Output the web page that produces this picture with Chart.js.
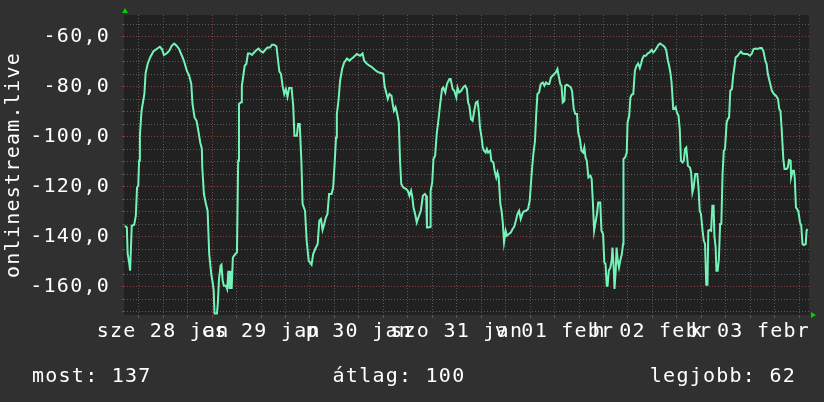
<!DOCTYPE html>
<html>
<head>
<meta charset="utf-8">
<script src="https://cdn.jsdelivr.net/npm/chart.js@4.4.1/dist/chart.umd.min.js"></script>
<style>
  html, body { margin: 0; padding: 0; background: #303030; }
  canvas { display: block; }
</style>
</head>
<body>
<canvas id="chart" width="824" height="402"></canvas>
<script>
// hours counted from jan 28 00:00
const hours = [
  2.6, 3.1, 3.3, 3.6, 3.9, 4.1, 4.3, 4.9, 5.3, 5.6, 5.9, 6.1, 6.3, 6.7, 7.4, 7.7, 8.2, 8.8, 9.6, 10.4,
  11.2, 11.7, 12.2, 12.9, 13.5, 14.1, 14.7, 15.3, 15.9, 16.6, 17.1, 17.8, 18.4, 18.9, 19.2, 19.7, 20.2, 20.7, 21.1, 21.5,
  21.6, 22.0, 22.5, 22.9, 23.3, 23.8, 24.2, 24.4, 24.6, 25.2, 25.4, 25.7, 26.1, 26.3, 26.6, 26.9, 27.4, 27.7, 28.0, 28.3,
  28.5, 28.8, 29.1, 29.7, 30.1, 30.4, 30.6, 31.1, 31.3, 31.6, 32.0, 32.4, 32.8, 33.3, 33.8, 34.3, 34.9, 35.4, 36.0, 36.5,
  37.0, 37.6, 38.2, 38.7, 39.2, 39.8, 40.1, 40.5, 40.9, 41.3, 41.7, 42.1, 42.5, 42.9, 43.5, 43.9, 44.2, 44.8, 45.1, 45.5,
  45.9, 46.2, 46.8, 47.2, 47.7, 48.0, 48.4, 48.8, 49.3, 49.9, 50.3, 50.7, 51.1, 51.5, 51.9, 52.3, 52.7, 53.3, 53.7, 54.1,
  54.4, 54.6, 55.0, 55.4, 55.9, 56.4, 57.1, 57.7, 58.1, 58.6, 59.5, 60.3, 60.9, 61.3, 61.9, 62.6, 63.1, 63.7, 64.4, 65.0,
  65.6, 66.0, 66.3, 66.7, 67.1, 67.5, 68.0, 68.3, 68.6, 69.0, 69.4, 69.8, 70.1, 70.4, 70.9, 71.6, 72.0, 72.4, 72.8, 73.1,
  73.4, 73.8, 74.2, 74.6, 75.2, 75.7, 76.2, 76.5, 76.7, 77.1, 77.5, 77.6, 78.0, 78.3, 78.7, 79.1, 79.5, 79.9, 80.4, 80.7,
  81.2, 81.6, 82.2, 82.5, 83.0, 83.4, 83.9, 84.2, 84.6, 85.1, 85.7, 86.1, 86.5, 86.8, 87.1, 87.5, 87.9, 88.3, 88.7, 89.1,
  89.4, 89.7, 90.1, 90.4, 90.7, 91.1, 91.4, 91.7, 92.2, 92.5, 93.0, 93.3, 93.7, 94.0, 94.3, 94.7, 95.0, 95.3, 95.6, 96.0,
  96.3, 96.8, 97.3, 97.7, 98.1, 98.5, 98.9, 99.3, 99.7, 100.1, 100.4, 101.0, 101.5, 101.9, 102.2, 102.5, 102.8, 103.2, 103.5, 103.8,
  104.2, 104.6, 105.1, 105.5, 105.9, 106.3, 106.7, 107.1, 107.5, 107.9, 108.3, 108.7, 109.0, 109.4, 109.7, 110.0, 110.4, 110.6, 111.0, 111.5,
  112.0, 112.3, 112.7, 113.1, 113.5, 113.8, 114.2, 114.6, 115.0, 115.3, 115.6, 115.9, 116.3, 116.8, 117.1, 117.4, 117.7, 118.1, 118.4, 118.7,
  119.2, 119.5, 119.9, 120.2, 120.5, 120.8, 121.0, 121.3, 121.7, 122.0, 122.2, 122.5, 122.7, 123.0, 123.2, 123.5, 123.8, 124.1, 124.5, 124.8,
  124.9, 125.3, 125.7, 125.9, 126.3, 126.6, 126.9, 127.3, 127.7, 128.1, 128.5, 128.9, 129.2, 129.5, 129.9, 130.4, 130.8, 131.3, 131.8, 132.2,
  132.6, 133.1, 133.5, 133.9, 134.3, 134.7, 135.1, 135.4, 135.8, 136.1, 136.4, 136.7, 137.1, 137.4, 137.7, 138.0, 138.4, 138.7, 139.0, 139.4,
  139.7, 140.0, 140.3, 140.7, 141.2, 141.5, 141.8, 142.1, 142.5, 143.0, 143.3, 143.6, 143.9, 144.3, 144.6, 144.9, 145.2, 145.5, 145.7, 146.1,
  146.4, 146.7, 147.0, 147.2, 147.5, 147.7, 148.0, 148.3, 148.6, 148.9, 149.2, 149.5, 149.8, 150.2, 150.5, 150.8, 151.1, 151.5, 151.8, 152.1,
  152.4, 152.9, 153.3, 153.7, 154.1, 154.7, 155.3, 155.9, 156.4, 156.8, 157.4, 157.8, 158.4, 158.8, 159.2, 159.7, 160.0, 160.3, 160.6, 161.0,
  161.3, 161.8, 162.3, 162.8, 163.1, 163.4, 163.7, 164.1, 164.4, 164.9, 165.2, 165.5, 165.9, 166.0, 166.4, 166.7, 166.9, 167.2, 167.5, 167.8,
  168.2, 168.5, 168.8, 169.1, 169.6, 169.8, 170.0
];
const values = [
  -135.6, -136.3, -146.9, -149.6, -153.6, -153.6, -135.6, -135.2, -131.6, -120.3, -119.6, -109.6, -99.6, -89.6, -82.9, -74.6, -70.9, -68.3, -65.9, -64.9,
  -64.0, -64.9, -67.3, -66.6, -65.6, -63.6, -62.7, -63.6, -64.9, -67.6, -69.6, -73.6, -75.6, -78.9, -86.9, -92.3, -93.6, -98.3, -102.3, -104.9,
  -112.3, -122.9, -126.9, -129.6, -146.9, -154.9, -158.9, -161.6, -170.7, -170.7, -166.9, -156.9, -151.6, -151.2, -157.6, -159.6, -159.6, -160.9, -153.6, -160.9,
  -153.6, -160.9, -148.3, -146.9, -146.3, -109.6, -86.9, -86.2, -79.6, -76.3, -71.6, -70.9, -66.7, -66.7, -67.3, -66.3, -65.3, -64.7, -65.9, -66.3,
  -65.3, -64.3, -64.3, -63.2, -63.2, -63.9, -68.3, -73.9, -74.9, -79.6, -82.9, -80.9, -84.0, -80.5, -80.5, -87.6, -99.6, -99.6, -94.9, -94.9,
  -109.6, -126.9, -129.6, -141.6, -149.6, -150.3, -151.2, -146.9, -144.9, -142.9, -133.6, -132.9, -137.3, -134.9, -132.3, -130.9, -122.9, -122.9, -120.3, -109.6,
  -100.3, -90.9, -85.6, -77.6, -72.9, -70.3, -68.7, -69.6, -68.9, -68.3, -66.9, -67.6, -66.7, -69.6, -70.7, -71.6, -72.0, -72.9, -73.9, -74.3,
  -74.6, -74.9, -79.6, -82.3, -84.9, -82.9, -83.6, -86.9, -89.6, -88.2, -90.9, -94.3, -109.6, -118.9, -120.3, -120.9, -121.6, -123.6, -121.6, -124.0,
  -128.3, -130.9, -134.3, -132.3, -129.6, -123.6, -122.9, -123.6, -136.3, -136.3, -136.0, -121.6, -118.3, -108.9, -107.6, -98.9, -93.6, -87.6, -80.9, -80.3,
  -82.3, -78.9, -76.9, -76.9, -80.9, -81.6, -84.3, -80.3, -82.3, -81.6, -80.0, -79.6, -80.9, -86.3, -87.6, -92.9, -93.6, -89.6, -86.3, -85.9,
  -89.6, -96.3, -100.3, -104.3, -105.6, -106.3, -104.9, -106.3, -105.6, -109.6, -110.3, -113.6, -116.3, -114.3, -116.3, -126.9, -129.6, -134.3, -142.2, -137.6,
  -139.6, -138.9, -138.2, -136.9, -136.0, -133.6, -130.9, -129.6, -132.9, -130.9, -129.9, -129.6, -128.9, -125.6, -118.9, -112.3, -106.9, -101.6, -90.9, -82.9,
  -82.3, -78.9, -78.3, -79.6, -78.3, -78.9, -78.9, -76.3, -75.6, -74.9, -74.3, -72.9, -75.6, -78.9, -79.6, -86.3, -85.6, -79.6, -79.2, -79.6,
  -80.3, -81.9, -88.9, -90.9, -90.9, -98.3, -100.9, -105.6, -106.3, -104.3, -108.3, -109.6, -116.3, -115.6, -116.9, -126.3, -137.6, -133.6, -130.9, -126.3,
  -126.3, -137.6, -138.9, -150.3, -150.9, -159.6, -159.6, -153.6, -152.3, -149.6, -144.3, -152.3, -160.9, -153.6, -144.3, -149.6, -152.3, -149.6, -146.9, -142.9,
  -108.9, -108.3, -106.3, -94.3, -91.6, -84.3, -83.2, -82.9, -73.6, -71.6, -70.7, -72.5, -70.9, -68.9, -67.6, -67.6, -66.7, -66.3, -65.3, -66.3,
  -65.6, -64.3, -63.2, -62.7, -63.2, -63.6, -64.3, -65.6, -69.6, -71.6, -74.3, -78.3, -88.9, -88.9, -88.2, -90.3, -91.6, -96.9, -109.6, -110.3,
  -109.6, -104.9, -104.3, -111.6, -112.3, -114.3, -122.3, -120.3, -114.9, -114.9, -120.3, -129.6, -130.9, -137.6, -141.6, -142.9, -159.2, -159.2, -137.6, -137.3,
  -137.6, -127.6, -127.6, -139.6, -144.3, -153.6, -153.6, -148.9, -134.9, -134.9, -114.9, -105.6, -104.9, -94.3, -92.9, -92.3, -81.6, -80.9, -75.6, -72.3,
  -68.3, -67.6, -66.7, -65.9, -66.7, -66.9, -66.9, -67.6, -66.7, -64.9, -64.7, -64.9, -64.5, -64.5, -65.6, -69.6, -70.9, -74.9, -76.9, -79.6,
  -81.6, -82.9, -83.6, -84.9, -88.9, -89.6, -96.9, -108.9, -112.9, -112.9, -112.3, -109.3, -109.6, -116.3, -113.6, -113.6, -116.3, -128.3, -128.9, -129.9,
  -134.3, -135.6, -142.9, -143.3, -142.9, -137.6, -136.9
];

// x ticks every 6 hours, labels sit at noon
const xTicks = [6, 12, 18, 24, 30, 36, 42, 48, 54, 60, 66, 72, 78, 84, 90, 96, 102, 108, 114, 120, 126, 132, 138, 144, 150, 156, 162, 168];
const dayLabels = ['sze 28 jan', 'cs 29 jan', 'p 30 jan', 'szo 31 jan', 'v 01 febr', 'h 02 febr', 'k 03 febr'];
const yTicks = [-170, -165, -160, -155, -150, -145, -140, -135, -130, -125, -120, -115, -110, -105, -100, -95, -90, -85, -80, -75, -70, -65, -60, -55];
const summary = ['most: 137', 'átlag: 100', 'legjobb: 62'];

const MAJOR = '#8a3e3e';
const MINOR = '#5a5a5a';

Chart.defaults.font.family = '"DejaVu Sans Mono", monospace';
Chart.defaults.font.size = 20;
Chart.defaults.color = '#ffffff';

// hatter, nyilak, also sor
const rrdLook = {
    id: 'rrdLook',
    beforeDraw(chart) {
        const {ctx, chartArea: a} = chart;
        ctx.save();
        ctx.fillStyle = '#303030';
        ctx.fillRect(0, 0, chart.width, chart.height);
        ctx.fillStyle = '#212121';
        ctx.fillRect(a.left, a.top, a.right - a.left, a.bottom - a.top);
        ctx.restore();
        ctx.letterSpacing = '1.25px';
    },
    afterDraw(chart) {
        const {ctx, chartArea: a} = chart;
        ctx.save();
        ctx.fillStyle = '#00d000';
        ctx.beginPath();
        ctx.moveTo(a.left - 2, 13);
        ctx.lineTo(a.left + 4, 13);
        ctx.lineTo(a.left + 1, 8);
        ctx.fill();
        ctx.beginPath();
        ctx.moveTo(a.right + 2, a.bottom - 3);
        ctx.lineTo(a.right + 2, a.bottom + 3);
        ctx.lineTo(a.right + 7, a.bottom);
        ctx.fill();

        ctx.fillStyle = '#ffffff';
        ctx.font = '20px "DejaVu Sans Mono"';
        ctx.textBaseline = 'alphabetic';
        ctx.textAlign = 'left';
        ctx.fillText(summary[0], 32, 382);
        ctx.textAlign = 'center';
        ctx.fillText(summary[1], 399, 382);
        ctx.textAlign = 'right';
        ctx.fillText(summary[2], 796, 382);
        ctx.restore();
    }
};

const gridColor = (step) => (c) => (c.tick && c.tick.value % step === 0) ? MAJOR : MINOR;

// scale sizes fixed so the plot area sits at 124..809 x 15..315
const noPad = (s) => { s.paddingTop = 0; s.paddingBottom = 0; s.paddingLeft = 0; s.paddingRight = 0; };

new Chart(document.getElementById('chart'), {
    type: 'line',
    data: {
        datasets: [{
            data: hours.map((h, i) => ({x: h, y: values[i]})),
            borderColor: '#74f3b8',
            borderWidth: 2,
            pointRadius: 0,
            tension: 0,
            fill: false
        }]
    },
    options: {
        responsive: false,
        animation: false,
        events: [],
        layout: {padding: {top: 15, right: 15, bottom: 0, left: 0}},
        plugins: {legend: {display: false}, tooltip: {enabled: false}},
        scales: {
            x: {
                type: 'linear',
                min: 2.4,
                max: 170.4,
                afterBuildTicks: (s) => { s.ticks = xTicks.map(v => ({value: v})); },
                afterFit: (s) => { s.height = 87; noPad(s); },
                grid: {color: gridColor(24), tickLength: 3, lineWidth: 1},
                border: {display: false, dash: [1, 2]},
                ticks: {
                    autoSkip: false,
                    maxRotation: 0,
                    minRotation: 0,
                    padding: 2,
                    callback: (v) => v % 24 === 12 ? dayLabels[(v - 12) / 24] : ''
                }
            },
            y: {
                min: -171.3,
                max: -51.3,
                afterBuildTicks: (s) => { s.ticks = yTicks.map(v => ({value: v})); },
                afterFit: (s) => { s.width = 124; noPad(s); },
                grid: {color: gridColor(20), tickLength: 2, lineWidth: 1},
                border: {display: false, dash: [1, 2]},
                title: {
                    display: true,
                    text: 'onlinestream.live',
                    padding: {top: 2, bottom: 0}
                },
                ticks: {
                    autoSkip: false,
                    padding: 12,
                    callback: (v) => v % 20 === 0 ? v.toFixed(1).replace('.', ',') : ''
                }
            }
        }
    },
    plugins: [rrdLook]
});
</script>
</body>
</html>
